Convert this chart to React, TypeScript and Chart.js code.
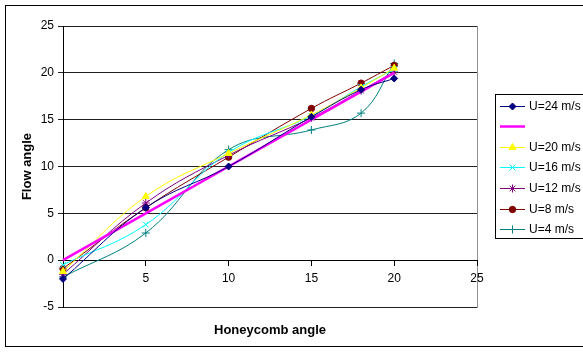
import React, { useEffect, useRef } from 'react';
import { Chart, registerables } from 'chart.js';
import { drawPoint } from 'chart.js/helpers';

Chart.register(...registerables);

// Honeycomb angles at which the flow angle was measured
const honeycombAngles = [0, 5, 10, 15, 18, 20];

// Flow angle for each free-stream velocity
const flowU24 = [-2.0, 5.6, 10.0, 15.3, 18.2, 19.4];
const flowReference = [0, 5, 10, 15, 18, 20];
const flowU20 = [-1.2, 6.8, 11.4, 15.5, 18.4, 20.5];
const flowU16 = [-0.5, 3.8, 11.5, 15.4, 18.5, 20.4];
const flowU12 = [-1.5, 6.1, 11.2, 15.2, 18.1, 20.1];
const flowU8 = [-0.9, 5.6, 11.0, 16.2, 18.9, 20.8];
const flowU4 = [-1.8, 2.9, 11.8, 13.9, 15.7, 21.0];

const seriesLabels = ['U=24 m/s', '', 'U=20 m/s', 'U=16 m/s', 'U=12 m/s', 'U=8 m/s', 'U=4 m/s'];
const seriesValues = [flowU24, flowReference, flowU20, flowU16, flowU12, flowU8, flowU4];

const xTitle = 'Honeycomb angle';
const yTitle = 'Flow angle';

const FONT = 'Arial, "Liberation Sans", sans-serif';

type Style = {
  color: string;
  pointStyle: any;
  radius: number;
  width: number;
  tension: number;
};

const seriesStyles: Style[] = [
  { color: '#000080', pointStyle: 'rectRot', radius: 3.5, width: 1, tension: 0.4 },
  { color: '#FF00FF', pointStyle: false, radius: 0, width: 2.5, tension: 0 },
  { color: '#FFFF00', pointStyle: 'triangle', radius: 4, width: 1, tension: 0.4 },
  { color: '#00FFFF', pointStyle: 'crossRot', radius: 4, width: 1, tension: 0.4 },
  { color: '#800080', pointStyle: 'star', radius: 4, width: 1, tension: 0.4 },
  { color: '#800000', pointStyle: 'circle', radius: 3.2, width: 1, tension: 0.4 },
  { color: '#008080', pointStyle: 'cross', radius: 4, width: 1, tension: 0.4 },
];

// Frame, plot border, axis titles and the boxed legend on the right
const decorPlugin = {
  id: 'decor',
  beforeDraw(chart: any) {
    const { ctx, chartArea: a } = chart;
    ctx.save();
    ctx.fillStyle = '#fff';
    ctx.fillRect(0, 0, chart.width, chart.height);
    ctx.strokeStyle = '#000';
    ctx.lineWidth = 1;
    ctx.strokeRect(5.5, 5.5, 640, 341);
    ctx.strokeStyle = '#909090';
    ctx.strokeRect(Math.round(a.left) + 0.5, Math.round(a.top) + 0.5, Math.round(a.right - a.left), Math.round(a.bottom - a.top));
    ctx.restore();
  },
  afterDraw(chart: any) {
    const { ctx, chartArea: a } = chart;
    ctx.save();
    ctx.fillStyle = '#000';
    ctx.font = `bold 13px ${FONT}`;
    ctx.textAlign = 'center';
    ctx.textBaseline = 'middle';
    ctx.fillText(xTitle, (a.left + a.right) / 2, 330);
    ctx.translate(27, (a.top + a.bottom) / 2);
    ctx.rotate(-Math.PI / 2);
    ctx.fillText(yTitle, 0, 0);
    ctx.restore();

    // legend
    ctx.save();
    ctx.strokeStyle = '#000';
    ctx.lineWidth = 1;
    ctx.strokeRect(495.5, 94.5, 120, 144);
    ctx.font = `12px ${FONT}`;
    ctx.textAlign = 'left';
    ctx.textBaseline = 'middle';
    chart.data.datasets.forEach((ds: any, i: number) => {
      const st = seriesStyles[i];
      const y = Math.round(105.5 + i * 20.6) + 0.5;
      ctx.strokeStyle = st.color;
      ctx.lineWidth = st.width;
      ctx.beginPath();
      ctx.moveTo(500, y);
      ctx.lineTo(525, y);
      ctx.stroke();
      if (st.pointStyle) {
        ctx.fillStyle = st.color;
        ctx.strokeStyle = st.color;
        ctx.lineWidth = 1;
        drawPoint(ctx, { pointStyle: st.pointStyle, radius: st.radius, rotation: 0, borderWidth: 1 } as any, 512.5, y);
      }
      ctx.fillStyle = '#000';
      ctx.fillText(ds.label, 529, y);
    });
    ctx.restore();
  },
};

export default function App() {
  const canvasRef = useRef<HTMLCanvasElement | null>(null);

  useEffect(() => {
    const canvas = canvasRef.current;
    if (!canvas) return;

    const datasets = seriesValues.map((vals, i) => {
      const st = seriesStyles[i];
      return {
        label: seriesLabels[i],
        data: honeycombAngles.map((x, j) => ({ x, y: vals[j] })),
        borderColor: st.color,
        backgroundColor: st.color,
        pointBackgroundColor: st.color,
        pointBorderColor: st.color,
        pointStyle: st.pointStyle,
        pointRadius: st.radius,
        pointBorderWidth: 1,
        borderWidth: st.width,
        tension: st.tension,
        clip: false as any,
        fill: false,
      };
    });

    const chart = new Chart(canvas, {
      type: 'line',
      data: { datasets },
      plugins: [decorPlugin],
      options: {
        animation: false,
        responsive: false,
        devicePixelRatio: 1,
        layout: { padding: { left: 0, top: 26, right: 106, bottom: 45 } },
        plugins: {
          legend: { display: false },
          tooltip: { enabled: false },
        },
        scales: {
          x: {
            type: 'linear',
            position: { y: 0 } as any,
            min: 0,
            max: 25,
            grid: { drawOnChartArea: false, drawTicks: true, tickLength: 5, color: '#000' },
            border: { display: true, color: '#000', width: 1 },
            ticks: {
              stepSize: 5,
              padding: 6,
              maxRotation: 0,
              autoSkip: false,
              color: '#000',
              font: { family: FONT, size: 12 },
              callback: (v: any) => (v === 0 ? '' : String(v)),
            },
          },
          y: {
            type: 'linear',
            min: -5,
            max: 25,
            afterFit: (scale: any) => {
              scale.width = 63;
            },
            grid: { color: '#202020', drawTicks: true, tickLength: 5 },
            border: { display: true, color: '#000', width: 1 },
            ticks: {
              stepSize: 5,
              padding: 4,
              color: '#000',
              font: { family: FONT, size: 12 },
            },
          },
        },
      },
    });

    return () => chart.destroy();
  }, []);

  return (
    <div style={{ position: 'absolute', left: 0, top: 0, width: 583, height: 352, overflow: 'hidden' }}>
      <canvas ref={canvasRef} width={583} height={352} style={{ width: 583, height: 352 }} />
    </div>
  );
}
